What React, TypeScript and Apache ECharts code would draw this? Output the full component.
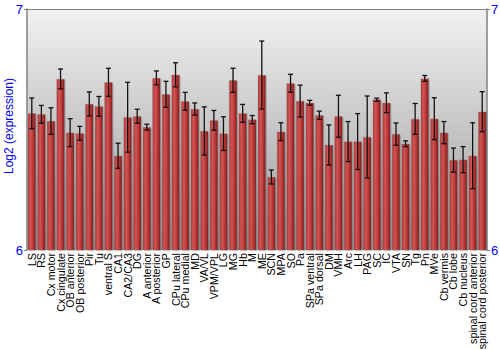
import React, { useEffect, useRef } from "react";
import * as echarts from "echarts";

const categories = [
  "LS", "RS", "Cx motor", "Cx cingulate", "OB anterior", "OB posterior", "Pir", "Tu",
  "ventral S", "CA1", "CA2/CA3", "DG", "A anterior", "A posterior", "GP", "CPu lateral",
  "CPu medial", "MD", "VA/VL", "VPM/VPL", "LG", "MG", "Hb", "M", "ME", "SCN", "MPA", "SO",
  "Pa", "SPa ventral", "SPa dorsal", "DM", "VMH", "Arc", "LH", "PAG", "SC", "IC", "VTA",
  "SN", "Tg", "Pn", "MVe", "Cb vermis", "Cb lobe", "Cb nucleus", "spinal cord anterior",
  "spinal cord posterior",
];

const values = [
  6.567, 6.563, 6.535, 6.71, 6.487, 6.484, 6.606, 6.596,
  6.696, 6.391, 6.551, 6.555, 6.51, 6.714, 6.646, 6.727,
  6.617, 6.585, 6.494, 6.538, 6.483, 6.704, 6.567, 6.541, 6.726, 6.303, 6.491, 6.692,
  6.618, 6.611, 6.559, 6.436, 6.555, 6.45, 6.45, 6.469, 6.624, 6.611, 6.481,
  6.441, 6.544, 6.712, 6.545, 6.487, 6.373, 6.375, 6.391,
  6.574,
];

const errors = [
  0.064, 0.037, 0.055, 0.041, 0.058, 0.029, 0.05, 0.041,
  0.058, 0.052, 0.145, 0.029, 0.012, 0.029, 0.054, 0.05,
  0.037, 0.025, 0.1, 0.041, 0.07, 0.05, 0.037, 0.017, 0.141, 0.029, 0.037, 0.037,
  0.066, 0.01, 0.017, 0.083, 0.087, 0.083, 0.116, 0.17, 0.006, 0.041, 0.046,
  0.012, 0.064, 0.012, 0.087, 0.046, 0.05, 0.054, 0.137,
  0.083,
];

const yTicks = [6, 7];
const yAxisTitle = "Log2 (expression)";

export default function App() {
  const ref = useRef<HTMLDivElement>(null);
  useEffect(() => {
    if (!ref.current) return;
    document.body.style.margin = "0";
    const chart = echarts.init(ref.current, null, { renderer: "svg" });
    const barColor = new echarts.graphic.LinearGradient(0, 0, 1, 0, [
      { offset: 0, color: "#b23535" },
      { offset: 0.35, color: "#d25454" },
      { offset: 0.75, color: "#b03030" },
      { offset: 1, color: "#7e1616" },
    ]);
    const font = "Liberation Sans, Arial, sans-serif";
    chart.setOption({
      animation: false,
      grid: {
        left: 27,
        right: 13,
        top: 9,
        bottom: 100,
        show: true,
        borderWidth: 0,
        containLabel: false,
        outerBoundsMode: "none",
        backgroundColor: new echarts.graphic.LinearGradient(0, 0, 0, 1, [
          { offset: 0, color: "#f2f2f2" },
          { offset: 1, color: "#999999" },
        ]),
      },
      graphic: [
        {
          type: "line",
          shape: { x1: 27, y1: 9.5, x2: 487, y2: 9.5 },
          style: { stroke: "#808080", lineWidth: 1 },
          z: 10,
        },
        {
          type: "text",
          x: 9,
          y: 126,
          rotation: Math.PI / 2,
          style: {
            text: yAxisTitle,
            fill: "#0000ff",
            fontSize: 12,
            fontFamily: font,
            align: "center",
            verticalAlign: "middle",
          },
        },
      ],
      xAxis: {
        type: "category",
        data: categories,
        axisLine: { show: false },
        axisTick: { show: false },
        axisLabel: {
          rotate: 90,
          interval: 0,
          color: "#000",
          fontSize: 10.7,
          fontFamily: font,
          margin: 3,
        },
      },
      yAxis: [
        {
          type: "value",
          min: yTicks[0],
          max: yTicks[1],
          interval: 1,
          axisLine: { show: true, lineStyle: { color: "#808080", width: 1.5 } },
          axisTick: { show: true, length: 3, lineStyle: { color: "#808080" } },
          axisLabel: { color: "#0000ff", fontSize: 13, margin: 4, fontFamily: font },
          splitLine: { show: false },
        },
        {
          type: "value",
          min: yTicks[0],
          max: yTicks[1],
          interval: 1,
          position: "right",
          axisLine: { show: true, lineStyle: { color: "#808080", width: 1.5 } },
          axisTick: { show: true, length: 3, lineStyle: { color: "#808080" } },
          axisLabel: { color: "#0000ff", fontSize: 13, margin: 4, fontFamily: font },
          splitLine: { show: false },
        },
      ],
      series: [
        {
          type: "bar",
          data: values,
          barCategoryGap: "16%",
          itemStyle: {
            color: barColor,
            borderColor: "rgba(120,120,120,0.6)",
            borderWidth: 0.5,
            shadowColor: "rgba(0,0,0,0.25)",
            shadowOffsetX: 1,
            shadowOffsetY: 1,
            shadowBlur: 1,
          },
        },
        {
          type: "custom",
          data: values.map((v, i) => [i, v - errors[i], v + errors[i]]),
          z: 5,
          renderItem: (params: any, api: any) => {
            const x = api.value(0);
            const lo = api.coord([x, api.value(1)]);
            const hi = api.coord([x, api.value(2)]);
            const hw = 2.5;
            const style = { stroke: "#111", lineWidth: 1.3 };
            return {
              type: "group",
              children: [
                { type: "line", shape: { x1: lo[0], y1: lo[1], x2: hi[0], y2: hi[1] }, style },
                { type: "line", shape: { x1: lo[0] - hw, y1: lo[1], x2: lo[0] + hw, y2: lo[1] }, style },
                { type: "line", shape: { x1: hi[0] - hw, y1: hi[1], x2: hi[0] + hw, y2: hi[1] }, style },
              ],
            };
          },
        },
      ],
    });
    return () => chart.dispose();
  }, []);
  return <div ref={ref} style={{ width: 500, height: 350 }} />;
}
